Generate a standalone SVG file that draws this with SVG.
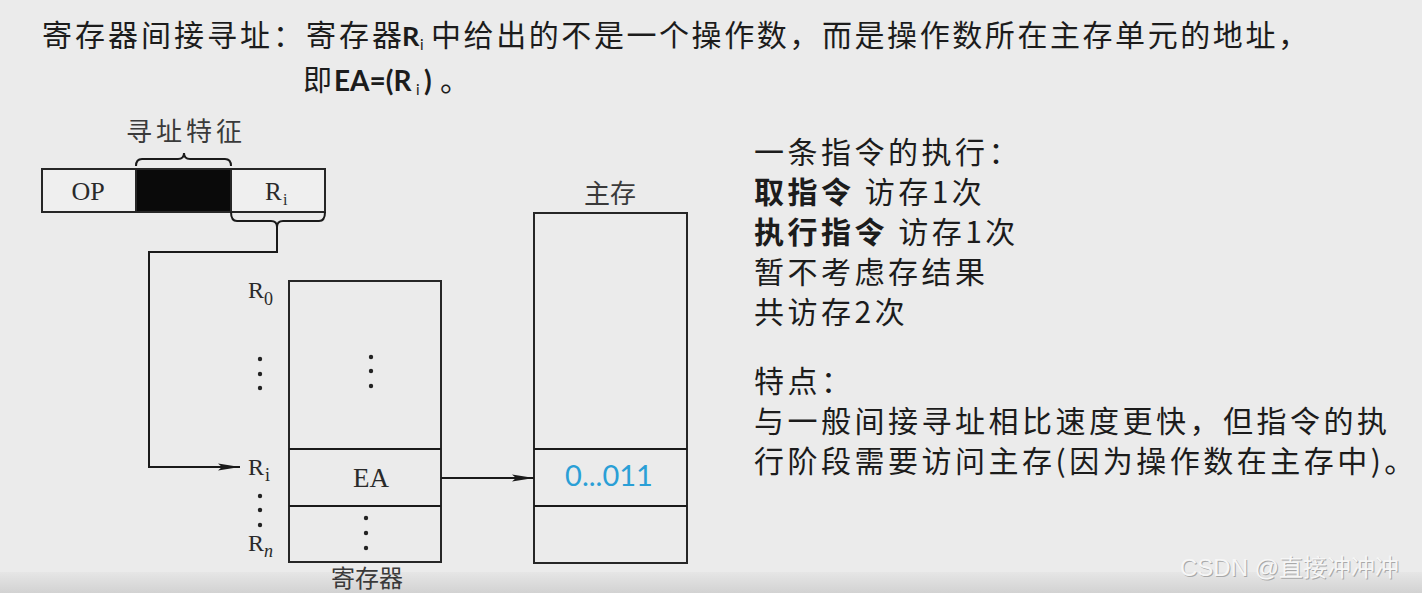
<svg xmlns="http://www.w3.org/2000/svg" width="1422" height="593" viewBox="0 0 1422 593">
<defs>
<linearGradient id="bot" x1="0" y1="0" x2="0" y2="1">
<stop offset="0" stop-color="#e6e6e6"/>
<stop offset="1" stop-color="#d2d2d2"/>
</linearGradient>
<marker id="arr" markerWidth="22" markerHeight="10" refX="22" refY="5" orient="auto" markerUnits="userSpaceOnUse">
<path d="M0,1.5 L22,5 L0,8.5 L4,5 Z" fill="#1a1a1a"/>
</marker>
<style>
.cjk{font-family:"Noto Sans CJK SC","Noto Sans",sans-serif;fill:#1c1c1c}
.lat{font-family:Lato,"Noto Sans CJK SC",sans-serif;fill:#1c1c1c}
.ser{font-family:"Liberation Serif","Noto Sans CJK SC",serif;fill:#2a2a2a}
.lbl{font-family:"Noto Sans CJK SC",sans-serif;fill:#3a3a3a}
.box{fill:none;stroke:#262626;stroke-width:2}
.ln{fill:none;stroke:#1a1a1a;stroke-width:2}
.dot{fill:#222}
.rt{font-size:30px;letter-spacing:3.5px}
</style>
</defs>
<rect width="1422" height="593" fill="#ebebeb"/>
<rect y="572" width="1422" height="21" fill="url(#bot)"/>

<g id="title">
<text class="cjk" x="42" y="46" font-size="30" textLength="360" lengthAdjust="spacing">寄存器间接寻址：寄存器</text>
<text class="lat" x="402" y="46" font-size="27" font-weight="bold">R</text>
<text class="lat" x="420" y="50" font-size="15">i</text>
<text class="cjk" x="431" y="46" font-size="30" textLength="877" lengthAdjust="spacing">中给出的不是一个操作数，而是操作数所在主存单元的地址，</text>
<text class="cjk" x="303" y="91" font-size="29">即</text>
<text class="lat" x="334" y="91" font-size="28" font-weight="bold">EA=(R</text>
<text class="lat" x="416" y="95" font-size="15">i</text>
<text class="lat" x="424" y="91" font-size="28" font-weight="bold">)</text>
<text class="cjk" x="440" y="91" font-size="30">。</text>
</g>

<g id="instruction">
<rect x="42" y="169" width="94" height="43" fill="#efefef" stroke="#262626" stroke-width="2"/>
<rect x="136" y="169" width="95" height="43" fill="#0a0a0a" stroke="#262626" stroke-width="2"/>
<rect x="231" y="169" width="94" height="43" fill="#efefef" stroke="#262626" stroke-width="2"/>
<text class="ser" x="88" y="200" font-size="26" text-anchor="middle">OP</text>
<text class="ser" x="265" y="200" font-size="25">R</text>
<text class="ser" x="283" y="205" font-size="16">i</text>
<path class="ln" d="M136,166 Q136,159 142,159 L178,159 Q184,159 184,153 Q184,159 190,159 L225,159 Q231,159 231,166"/>
<text class="lbl" x="184" y="141" font-size="26" text-anchor="middle" textLength="116" lengthAdjust="spacing">寻址特征</text>
<path class="ln" d="M231,212 Q231,221 237,221 L271,221 Q277,221 277,227 Q277,221 283,221 L319,221 Q325,221 325,212"/>
</g>

<g id="registers">
<rect class="box" x="289" y="281" width="152" height="281"/>
<line class="ln" x1="289" y1="449" x2="441" y2="449"/>
<line class="ln" x1="289" y1="506" x2="441" y2="506"/>
<circle class="dot" cx="371" cy="357" r="2.2"/>
<circle class="dot" cx="371" cy="371" r="2.2"/>
<circle class="dot" cx="371" cy="386" r="2.2"/>
<text class="ser" x="371" y="487" font-size="27" text-anchor="middle">EA</text>
<circle class="dot" cx="366" cy="518" r="2.2"/>
<circle class="dot" cx="366" cy="533" r="2.2"/>
<circle class="dot" cx="366" cy="548" r="2.2"/>
<text class="ser" x="248" y="298" font-size="24">R</text>
<text class="ser" x="264" y="305" font-size="18">0</text>
<circle class="dot" cx="260" cy="359" r="2.2"/>
<circle class="dot" cx="260" cy="374" r="2.2"/>
<circle class="dot" cx="260" cy="388" r="2.2"/>
<text class="ser" x="248" y="475" font-size="24">R</text>
<text class="ser" x="265" y="481" font-size="18">i</text>
<circle class="dot" cx="260" cy="496" r="2.2"/>
<circle class="dot" cx="260" cy="510" r="2.2"/>
<circle class="dot" cx="260" cy="525" r="2.2"/>
<text class="ser" x="248" y="551" font-size="24">R</text>
<text class="ser" x="264" y="557" font-size="18" font-style="italic">n</text>
<text class="lbl" x="367" y="587" font-size="24" text-anchor="middle">寄存器</text>
</g>

<g id="memory">
<rect class="box" x="534" y="213" width="153" height="350"/>
<line class="ln" x1="534" y1="449" x2="687" y2="449"/>
<line class="ln" x1="534" y1="506" x2="687" y2="506"/>
<text class="lbl" x="610" y="203" font-size="26" text-anchor="middle">主存</text>
<text x="609" y="486" font-size="29" text-anchor="middle" font-family="Lato,'Open Sans',sans-serif" fill="#2a9fd6">0...011</text>
</g>

<g id="connectors">
<path class="ln" d="M277,226 L277,252 L149,252 L149,467 L240,467" marker-end="url(#arr)"/>
<line class="ln" x1="441" y1="478" x2="534" y2="478" marker-end="url(#arr)"/>
</g>

<g id="notes">
<text class="cjk rt" x="754" y="163">一条指令的执行：</text>
<text class="cjk rt" x="754" y="203"><tspan font-weight="bold">取指令</tspan> 访存1次</text>
<text class="cjk rt" x="754" y="243"><tspan font-weight="bold">执行指令</tspan> 访存1次</text>
<text class="cjk rt" x="754" y="283">暂不考虑存结果</text>
<text class="cjk rt" x="754" y="323">共访存2次</text>
<text class="cjk rt" x="754" y="392">特点：</text>
<text class="cjk rt" x="754" y="432">与一般间接寻址相比速度更快，但指令的执</text>
<text class="cjk rt" x="754" y="472">行阶段需要访问主存(因为操作数在主存中)。</text>
</g>

<g id="watermark">
<text x="1181" y="577" font-size="24" font-family="'Liberation Sans','Noto Sans CJK SC',sans-serif" fill="#a8a8a8">CSDN @直接冲冲冲</text>
<text x="1180" y="576" font-size="24" font-family="'Liberation Sans','Noto Sans CJK SC',sans-serif" fill="#f6f6f6">CSDN @直接冲冲冲</text>
</g>
</svg>
